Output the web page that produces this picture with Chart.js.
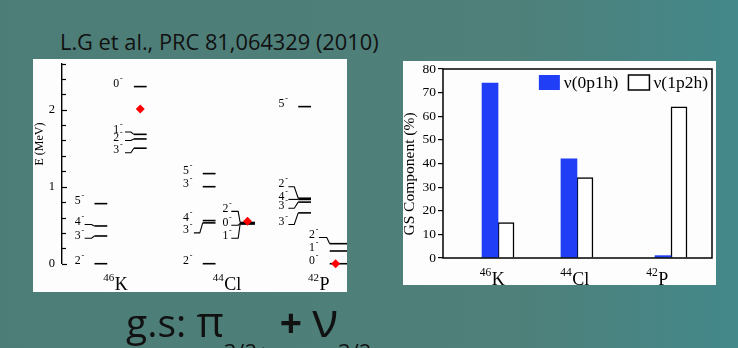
<!DOCTYPE html>
<html>
<head>
<meta charset="utf-8">
<script src="https://cdn.jsdelivr.net/npm/chart.js@4.4.1/dist/chart.umd.min.js"></script>
<style>
  html, body { margin: 0; padding: 0; }
  body {
    width: 738px; height: 348px; overflow: hidden; position: relative;
    background: linear-gradient(to right, #4d7d77 0%, #4f807a 70%, #43888a 100%);
    font-family: 'Open Sans', sans-serif; color: #111;
  }
  #ref { position: absolute; left: 60px; top: 31px; font-size: 21.8px; line-height: 1; white-space: nowrap; }
  .panel { position: absolute; background: #fdfdfd; }
  #levelPanel { left: 33px; top: 59px; width: 314px; height: 233px; }
  #compPanel { left: 403px; top: 61px; width: 313px; height: 224px; }
  #gs { position: absolute; left: 126px; top: 302px; font-size: 39px; line-height: 1; white-space: nowrap; }
  #gs span { line-height: 0; }
  #gs .pi { font-size: 42px; }
  #gs .nu { font-size: 48px; }
  #gs .sub { font-size: 22px; position: relative; top: 23px; }
  #gs .plus { font-weight: 700; }
</style>
</head>
<body>
<div id="ref">L.G et al., PRC 81,064329 (2010)</div>
<div class="panel" id="levelPanel"><canvas id="levels" width="314" height="233"></canvas></div>
<div class="panel" id="compPanel"><canvas id="comp" width="313" height="224"></canvas></div>
<div id="gs">g.s: <span class="pi">π</span><span class="sub">3/2+</span> <span class="plus">+</span> <span class="nu">ν</span><span class="sub">3/2-</span></div>

<script>
// ---------------- data ----------------
const massNumbers = ['46', '44', '42'];
const elements = ['K', 'Cl', 'P'];

// Level energies (MeV) and spin-parity, one pair of arrays per level column
const k46LowE  = [0, 0.36, 0.49, 0.78];
const k46LowJ  = ['2-', '3-', '4-', '5-'];
const k46HighE = [1.50, 1.62, 1.68, 2.30];
const k46HighJ = ['3-', '2-', '1-', '0-'];
const cl44LowE = [0, 0.53, 0.56, 1.00, 1.17];
const cl44LowJ = ['2-', '3-', '4-', '3-', '5-'];
const cl44GsE  = [0.535, 0.525, 0.515];
const cl44GsJ  = ['2-', '0-', '1-'];
const p42HighE = [0.66, 0.80, 0.835, 0.85, 2.04];
const p42HighJ = ['3-', '3-', '4-', '2-', '5-'];
const p42LowE  = [0, 0.165, 0.26];
const p42LowJ  = ['0-', '1-', '2-'];

// Red diamond markers (MeV), one per nucleus
const markerE = [2.01, 0.55, 0];

// Ground-state composition (%)
const comp0p1h = [74, 42, 1];
const comp1p2h = [15, 34, 64];

// ---------------- layout ----------------
// x positions are in pixels measured from the energy axis.
// labelAt: energy of the leader line a spin label sits on (null = label sits beside its level)
const columns = [
  { E: k46LowE,  J: k46LowJ,  labelAt: [null, 0.33, 0.51, null],           textX: 13,  lead0: 23,  lead1: 30,  x0: 33,  x1: 46 },
  { E: k46HighE, J: k46HighJ, labelAt: [1.44, 1.60, 1.71, null],           textX: 52,  lead0: 64,  lead1: 70,  x0: 73,  x1: 86 },
  { E: cl44LowE, J: cl44LowJ, labelAt: [null, 0.40, null, null, null],     textX: 123, lead0: 134, lead1: 140, x0: 143, x1: 156 },
  { E: cl44GsE,  J: cl44GsJ,  labelAt: [0.68, 0.50, 0.33],                 textX: 163, lead0: 172, lead1: 179, x0: 181, x1: 196 },
  { E: p42HighE, J: p42HighJ, labelAt: [0.51, 0.72, 0.835, 1.00, null],    textX: 220, lead0: 230, lead1: 236, x0: 240, x1: 253 },
  { E: p42LowE,  J: p42LowJ,  labelAt: [null, null, 0.34],                 textX: 251, lead0: 261, lead1: 269, x0: 272, x1: 292 }
];
const markerX = [79.5, 188.5, 278];
const nucleusLabelX = [54, 167.5, 260.5];

// bar chart: nucleus label slots sit at 0, 1, 2; bar groups are drawn here
const barGroupX = [0.073, 1.03, 2.17];

const serif = 'Liberation Serif';

// ---------------- level scheme ----------------
const levelDatasets = [];
levelDatasets.push({
  data: markerE.map((e, i) => ({ x: markerX[i], y: e })),
  pointStyle: 'rectRot', pointRadius: 4.5, backgroundColor: '#ff0000', borderColor: '#ff0000',
  borderWidth: 0, showLine: false, clip: false
});
columns.forEach(col => {
  col.E.forEach((e, i) => {
    const lab = col.labelAt[i];
    const pts = lab === null ? [] : [{ x: col.lead0, y: lab }, { x: col.lead1, y: lab }];
    pts.push({ x: col.x0, y: e }, { x: col.x1, y: e });
    const last = pts.length - 2;
    levelDatasets.push({
      data: pts, showLine: true, borderColor: '#000', borderWidth: 1.6,
      pointRadius: 0, clip: false, tension: 0,
      segment: { borderWidth: c => (c.p0DataIndex === last ? 1.6 : 1.1) }
    });
  });
});

function drawSpin(ctx, text, x, y) {
  ctx.font = '11.8px "' + serif + '"';
  ctx.textAlign = 'left';
  ctx.textBaseline = 'alphabetic';
  const d = text.slice(0, -1), p = text.slice(-1);
  ctx.fillText(d, x, y);
  const w = ctx.measureText(d).width;
  ctx.font = '8px "' + serif + '"';
  ctx.fillText(p, x + w + 0.8, y - 6);
}

function drawNucleus(ctx, mass, el, cx, baseY, supSize, mainSize, supRise) {
  ctx.textBaseline = 'alphabetic';
  ctx.textAlign = 'left';
  ctx.font = supSize + 'px "' + serif + '"';
  const w1 = ctx.measureText(mass).width;
  ctx.font = mainSize + 'px "' + serif + '"';
  const w2 = ctx.measureText(el).width;
  const x = cx - (w1 + w2) / 2;
  ctx.font = supSize + 'px "' + serif + '"';
  ctx.fillText(mass, x, baseY - supRise);
  ctx.font = mainSize + 'px "' + serif + '"';
  ctx.fillText(el, x + w1 + 0.5, baseY);
}

const levelText = {
  id: 'levelText',
  afterDatasetsDraw(chart) {
    const { ctx, scales: { x, y }, chartArea } = chart;
    ctx.save();
    ctx.fillStyle = '#000';
    // spin-parity labels
    columns.forEach(col => {
      col.E.forEach((e, i) => {
        const lab = col.labelAt[i];
        const yy = y.getPixelForValue(lab === null ? e : lab);
        drawSpin(ctx, col.J[i], x.getPixelForValue(col.textX), yy + 0.5);
      });
    });
    // inward axis ticks
    ctx.strokeStyle = '#000';
    ctx.lineWidth = 1.2;
    y.ticks.forEach(t => {
      const major = Math.abs(t.value - Math.round(t.value)) < 1e-6;
      const py = Math.round(y.getPixelForValue(t.value)) + 0.5;
      ctx.beginPath();
      ctx.moveTo(chartArea.left, py);
      ctx.lineTo(chartArea.left + (major ? 5 : 4), py);
      ctx.stroke();
    });
    // nucleus names
    massNumbers.forEach((m, i) => {
      drawNucleus(ctx, m, elements[i], x.getPixelForValue(nucleusLabelX[i]), chartArea.bottom + 26.5, 11, 18, 9);
    });
    // energy axis title
    ctx.translate(6.5, 85);
    ctx.rotate(-Math.PI / 2);
    ctx.font = '12px "' + serif + '"';
    ctx.textAlign = 'center';
    ctx.textBaseline = 'middle';
    ctx.fillText('E (MeV)', 0, 0);
    ctx.restore();
  }
};

new Chart(document.getElementById('levels'), {
  type: 'scatter',
  data: { datasets: levelDatasets },
  options: {
    responsive: false, animation: false,
    layout: { padding: { left: 0, right: 0, top: 0, bottom: 28.3 } },
    plugins: { legend: { display: false }, tooltip: { enabled: false } },
    scales: {
      x: { type: 'linear', display: false, min: 0, max: 285 },
      y: {
        min: 0, max: 2.6,
        afterFit(s) { s.width = 29; s.paddingTop = 0; s.paddingBottom = 0; },
        border: { display: true, color: '#000', width: 1.4 },
        grid: { display: false, drawTicks: false },
        ticks: {
          stepSize: 0.2, padding: 7, autoSkip: false, color: '#000',
          font: { family: serif, size: 12.5 },
          callback: v => (Math.abs(v - Math.round(v)) < 1e-6 ? String(Math.round(v)) : '')
        }
      }
    }
  },
  plugins: [levelText]
});

// ---------------- composition bars ----------------
const compDecor = {
  id: 'compDecor',
  afterDatasetsDraw(chart) {
    const { ctx, chartArea: a, scales: { x } } = chart;
    ctx.save();
    ctx.strokeStyle = '#000';
    ctx.lineWidth = 1.5;
    ctx.strokeRect(a.left, a.top, a.right - a.left, a.bottom - a.top);
    ctx.fillStyle = '#000';
    massNumbers.forEach((m, i) => {
      drawNucleus(ctx, m, elements[i], x.getPixelForValue(i), 223.5, 11.5, 18, 8.5);
    });

    // legend, right-aligned along the top of the plot area
    const boxW = 21, boxH = 15, gapText = 4, gapItem = 10;
    ctx.font = '17.5px "' + serif + '"';
    ctx.textBaseline = 'alphabetic';
    ctx.textAlign = 'left';
    const sets = chart.data.datasets;
    const widths = sets.map(d => boxW + gapText + ctx.measureText(d.label).width);
    const total = widths.reduce((s, w) => s + w, 0) + gapItem * (sets.length - 1);
    let cx = a.right - 4 - total;
    const boxTop = a.top + 6;
    sets.forEach((d, i) => {
      ctx.fillStyle = d.backgroundColor;
      ctx.fillRect(cx, boxTop, boxW, boxH);
      if (d.borderWidth) {
        ctx.lineWidth = d.borderWidth;
        ctx.strokeStyle = d.borderColor;
        ctx.strokeRect(cx, boxTop, boxW, boxH);
      }
      ctx.fillStyle = '#000';
      ctx.fillText(d.label, cx + boxW + gapText, boxTop + 12.5);
      cx += widths[i] + gapItem;
    });

    ctx.translate(7, 113);
    ctx.rotate(-Math.PI / 2);
    ctx.font = '15.5px "' + serif + '"';
    ctx.textAlign = 'center';
    ctx.textBaseline = 'middle';
    ctx.fillText('GS Component (%)', 0, 0);
    ctx.restore();
  }
};

new Chart(document.getElementById('comp'), {
  type: 'bar',
  data: {
    datasets: [
      {
        label: 'ν(0p1h)',
        data: comp0p1h.map((v, i) => ({ x: barGroupX[i], y: v })),
        backgroundColor: '#1f3ef6', borderColor: '#1f3ef6', borderWidth: 0, barThickness: 16
      },
      {
        label: 'ν(1p2h)',
        data: comp1p2h.map((v, i) => ({ x: barGroupX[i], y: v })),
        backgroundColor: '#ffffff', borderColor: '#000', borderWidth: 1.5, barThickness: 16
      }
    ]
  },
  options: {
    responsive: false, animation: false,
    layout: { padding: { left: 0, right: 4, top: 8, bottom: 27 } },
    plugins: { tooltip: { enabled: false }, legend: { display: false } },
    scales: {
      x: { type: 'linear', display: false, min: -0.594, max: 2.667, offset: false },
      y: {
        min: 0, max: 80,
        afterFit(s) { s.width = 40; s.paddingTop = 0; s.paddingBottom = 0; },
        border: { display: false },
        grid: { drawOnChartArea: false, tickLength: 5, color: '#000', lineWidth: 1.2 },
        ticks: { stepSize: 10, padding: 2, color: '#000', font: { family: serif, size: 13.5 } }
      }
    }
  },
  plugins: [compDecor]
});
</script>
</body>
</html>
